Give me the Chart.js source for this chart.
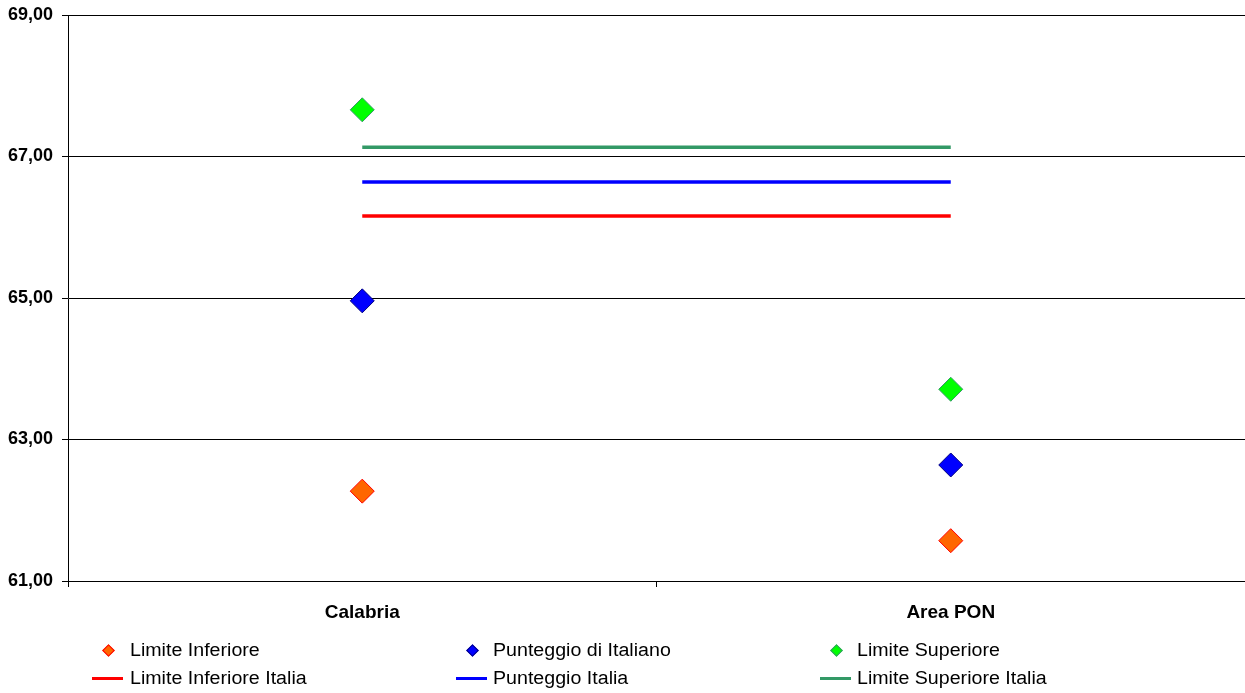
<!DOCTYPE html>
<html><head><meta charset="utf-8">
<script src="https://cdn.jsdelivr.net/npm/chart.js@4/dist/chart.umd.min.js"></script>
<style>
html,body{margin:0;padding:0;background:#fff;overflow:hidden}
#wrap{position:relative;width:1245px;height:693px}
#legend{position:absolute;left:0;top:0;width:1245px;height:693px;pointer-events:none;font-family:"Liberation Sans",Arial,sans-serif;font-size:18px;color:#000}
.item{position:absolute;height:20px;line-height:20px;white-space:nowrap}
.lbl{position:absolute;top:0;transform:scaleX(1.09);transform-origin:left center}
.dia{position:absolute;width:9px;height:9px;transform:rotate(45deg);box-sizing:border-box;border:1px solid}
.ln{position:absolute;height:3px}
</style></head>
<body><div id="wrap"><canvas id="c" width="1245" height="693"></canvas><div id="legend"></div></div>
<script>
const categories = ['Calabria', 'Area PON'];
const limiteInferiore = [62.27, 61.57];
const punteggioItaliano = [64.96, 62.64];
const limiteSuperiore = [67.66, 63.71];
const limiteInferioreItalia = [66.16, 66.16];
const punteggioItalia = [66.64, 66.64];
const limiteSuperioreItalia = [67.13, 67.13];
const yMin = 61, yMax = 69, yStep = 2;

const seriesNames = ['Limite Inferiore','Punteggio di Italiano','Limite Superiore','Limite Inferiore Italia','Punteggio Italia','Limite Superiore Italia'];

function pts(name, data, fill, border){
  return {label:name, data:data, type:'line', showLine:false, pointStyle:'rectRot', pointRadius:12, pointHoverRadius:12,
    pointBackgroundColor:fill, pointBorderColor:border, pointBorderWidth:1, backgroundColor:fill, borderColor:border, order:1};
}
function line(name, data, color){
  return {label:name, data:data, type:'line', borderColor:color, backgroundColor:color, borderWidth:3.5, pointRadius:0, pointHoverRadius:0, fill:false, order:2};
}

const datasets = [
  pts(seriesNames[0], limiteInferiore, '#FF6600', '#FF0000'),
  pts(seriesNames[1], punteggioItaliano, '#0000FF', '#000080'),
  pts(seriesNames[2], limiteSuperiore, '#00FF00', '#339966'),
  line(seriesNames[3], limiteInferioreItalia, '#FF0000'),
  line(seriesNames[4], punteggioItalia, '#0000FF'),
  line(seriesNames[5], limiteSuperioreItalia, '#339966')
];

new Chart(document.getElementById('c'), {
  type:'line',
  data:{labels:categories, datasets:datasets},
  options:{
    responsive:false, animation:false,
    layout:{autoPadding:false, padding:{top:15, right:0, left:0, bottom:0}},
    plugins:{legend:{display:false}, tooltip:{enabled:false}},
    scales:{
      x:{
        offset:true,
        grid:{offset:true, drawOnChartArea:false, drawTicks:true, tickLength:6, color:'#000'},
        border:{display:true, color:'#000', width:1},
        ticks:{padding:14, color:'#000', font:{family:'"Liberation Sans", Arial, sans-serif', size:19, weight:'bold'}},
        afterFit:(s)=>{s.height = 112; s.paddingLeft = 0; s.paddingRight = 0;}
      },
      y:{
        min:yMin, max:yMax,
        grid:{color:'#000', lineWidth:1, drawTicks:true, tickLength:6},
        border:{display:true, color:'#000', width:1},
        ticks:{stepSize:yStep, padding:9, color:'#000',
          font:{family:'"Liberation Sans", Arial, sans-serif', size:18, weight:'bold'},
          callback:(v)=>Number(v).toFixed(2).replace('.', ',')},
        afterFit:(s)=>{s.width = 68; s.paddingTop = 0; s.paddingBottom = 0;}
      }
    }
  }
});

// Legend (3 columns x 2 rows)
const leg = document.getElementById('legend');
const colX = [92, 456, 820];
const rowY = [650, 678];
datasets.forEach((d, i) => {
  const col = i % 3, row = Math.floor(i / 3);
  const it = document.createElement('div');
  it.className = 'item';
  it.style.left = colX[col] + 'px';
  it.style.top = (rowY[row] - 10) + 'px';
  if (row === 0) {
    const m = document.createElement('div');
    m.className = 'dia';
    m.style.left = (16 - 4.5) + 'px';
    m.style.top = (10 - 4.5) + 'px';
    m.style.background = d.pointBackgroundColor;
    m.style.borderColor = d.pointBorderColor;
    it.appendChild(m);
  } else {
    const l = document.createElement('div');
    l.className = 'ln';
    l.style.left = '0px'; l.style.width = '31px'; l.style.top = '9px';
    l.style.background = d.borderColor;
    it.appendChild(l);
  }
  const t = document.createElement('span');
  t.className = 'lbl';
  t.style.left = (col === 0 ? 38 : 37) + 'px';
  t.textContent = d.label;
  it.appendChild(t);
  leg.appendChild(it);
});
</script></body></html>
